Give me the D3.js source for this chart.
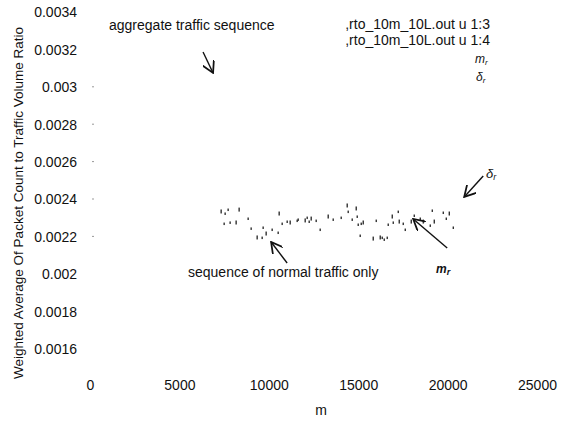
<!DOCTYPE html>
<html>
<head>
<meta charset="utf-8">
<script src="https://cdn.jsdelivr.net/npm/d3@7"></script>
<style>
  body { margin: 0; background: #fff; }
  text { font-family: "Liberation Sans", Arial, sans-serif; fill: #111; }
</style>
</head>
<body>
<div id="chart"></div>
<script>
// weighted average ratio of normal traffic
var mValues = [7332, 7723, 7555, 8338, 7500, 7834, 8170, 8842, 9010, 9346, 9626, 9681, 9849, 10185,
  10521, 10577, 10745, 11025, 11193, 11584, 11640, 12032, 12144, 12256, 12368, 12647, 12871, 13319,
  13599, 14046, 14382, 14438, 14662, 14886, 14942, 15166, 15278, 14998, 15109, 15837, 16006, 16453,
  16229, 16341, 16621, 16901, 16957, 17237, 17292, 17516, 17629, 17964, 18132, 18468, 18636, 19027,
  19140, 19251, 19755, 19923, 20091, 20315, 16676]
var ratioValues = [0.002336, 0.002341, 0.002320, 0.002346, 0.002266, 0.002272, 0.002277, 0.002293,
  0.002240, 0.002197, 0.002191, 0.002245, 0.002218, 0.002234, 0.002218, 0.002325, 0.002266, 0.002277,
  0.002277, 0.002282, 0.002288, 0.002288, 0.002298, 0.002277, 0.002298, 0.002282, 0.002234, 0.002309,
  0.002288, 0.002298, 0.002368, 0.002330, 0.002288, 0.002352, 0.002304, 0.002266, 0.002277, 0.002261,
  0.002202, 0.002191, 0.002282, 0.002181, 0.002197, 0.002191, 0.002191, 0.002309, 0.002272, 0.002330,
  0.002282, 0.002266, 0.002234, 0.002282, 0.002309, 0.002293, 0.002282, 0.002256, 0.002336, 0.002282,
  0.002325, 0.002293, 0.002325, 0.002245, 0.002261, 0.002240]
var xTicks = [0, 5000, 10000, 15000, 20000, 25000]
var yTicks = [0.0016, 0.0018, 0.002, 0.0022, 0.0024, 0.0026, 0.0028, 0.003, 0.0032, 0.0034]
var legendLabels = [",rto_10m_10L.out u 1:3", ",rto_10m_10L.out u 1:4"]

var width = 570, height = 421
var margin = {top: 12, right: 33, bottom: 35, left: 90}

var svg = d3.select("#chart").append("svg")
    .attr("width", width)
    .attr("height", height)

var x = d3.scaleLinear().domain([0, 25000]).range([margin.left, width - margin.right])
var y = d3.scaleLinear().domain([0.0014, 0.0034]).range([height - margin.bottom, margin.top])

// y axis: labels only, the axis line got lost in the scan
var yAxis = svg.append("g")
    .attr("transform", "translate(" + margin.left + ",0)")
    .call(d3.axisLeft(y).tickValues(yTicks).tickSize(0).tickPadding(13)
      .tickFormat(function(d) { return +d.toFixed(4); }))
yAxis.select(".domain").remove()
yAxis.selectAll("text").style("font-size", "14px").attr("dy", "0.35em")

svg.append("g").selectAll("line")
    .data(yTicks.slice(3, 8))
    .enter().append("line")
    .attr("x1", x(0) + 2).attr("x2", x(0) + 4)
    .attr("y1", function(d) { return y(d); })
    .attr("y2", function(d) { return y(d); })
    .attr("stroke", "#999")
    .attr("stroke-width", 1)

var xAxis = svg.append("g")
    .attr("transform", "translate(0," + (height - margin.bottom) + ")")
    .call(d3.axisBottom(x).tickValues(xTicks).tickSize(0).tickPadding(0)
      .tickFormat(d3.format("d")))
xAxis.select(".domain").remove()
xAxis.selectAll("text").style("font-size", "14px").attr("dy", "0.3em")

// axis titles
svg.append("text")
    .attr("transform", "translate(23,203) rotate(-90)")
    .attr("text-anchor", "middle")
    .style("font-size", "13.5px")
    .text("Weighted Average Of Packet Count to Traffic Volume Ratio")

svg.append("text")
    .attr("x", 321).attr("y", 415)
    .attr("text-anchor", "middle")
    .style("font-size", "14px")
    .text("m")

// the points
svg.append("g").selectAll("rect")
    .data(mValues.map(function(d, i) { return [d, ratioValues[i]]; }))
    .enter().append("rect")
    .attr("x", function(d) { return x(d[0]) - 0.6; })
    .attr("y", function(d) { return y(d[1]) - 1.5; })
    .attr("width", 1.3)
    .attr("height", function(d, i) { return i % 3 == 0 ? 4 : 2.5; })
    .attr("fill", "#222")

// legend, top right
svg.append("g").selectAll("text")
    .data(legendLabels)
    .enter().append("text")
    .attr("x", 490)
    .attr("y", function(d, i) { return 29 + i * 16; })
    .attr("text-anchor", "end")
    .style("font-size", "14px")
    .text(function(d) { return d; })

var legendSym = svg.append("g").style("font-family", "'DejaVu Serif', serif").style("font-style", "italic")
legendSym.append("text").attr("x", 475).attr("y", 63).style("font-size", "12px")
    .text("m").append("tspan").attr("dy", 2).style("font-size", "8px").text("r")
legendSym.append("text").attr("x", 476).attr("y", 81).style("font-size", "12px")
    .text("δ").append("tspan").attr("dy", 2).style("font-size", "8px").text("r")

// annotations with arrows
svg.append("defs").append("marker")
    .attr("id", "head")
    .attr("viewBox", "0 0 10 10")
    .attr("refX", 9).attr("refY", 5)
    .attr("markerWidth", 9).attr("markerHeight", 9)
    .attr("orient", "auto")
    .append("path")
    .attr("d", "M0,0 L9,5 L0,10")
    .attr("fill", "none")
    .attr("stroke", "#111")
    .attr("stroke-width", 1.4)

var arrows = [
  {x1: x(6323), y1: y(0.003186), x2: x(6883), y2: y(0.003074)},
  {x1: x(11024), y1: y(0.002058), x2: x(10129), y2: y(0.002170)},
  {x1: x(19978), y1: y(0.002138), x2: x(18075), y2: y(0.002293)},
  {x1: x(21992), y1: y(0.002523), x2: x(20929), y2: y(0.002411)}
]
svg.append("g").selectAll("line")
    .data(arrows)
    .enter().append("line")
    .attr("x1", function(d) { return d.x1; })
    .attr("y1", function(d) { return d.y1; })
    .attr("x2", function(d) { return d.x2; })
    .attr("y2", function(d) { return d.y2; })
    .attr("stroke", "#111")
    .attr("stroke-width", 1.4)
    .attr("marker-end", "url(#head)")

svg.append("text").attr("x", 109).attr("y", 30).style("font-size", "14px")
    .text("aggregate traffic sequence")
svg.append("text").attr("x", 188).attr("y", 277).style("font-size", "14px")
    .text("sequence of normal traffic only")

var notes = svg.append("g").style("font-family", "'DejaVu Serif', serif").style("font-style", "italic")
notes.append("text").attr("x", 436).attr("y", 273).style("font-size", "12px").style("font-weight", "bold")
    .text("m").append("tspan").attr("dy", 2).style("font-size", "9px").text("r")
notes.append("text").attr("x", 486).attr("y", 178).style("font-size", "13px")
    .text("δ").append("tspan").attr("dy", 2).style("font-size", "9px").text("r")
</script>
</body>
</html>
